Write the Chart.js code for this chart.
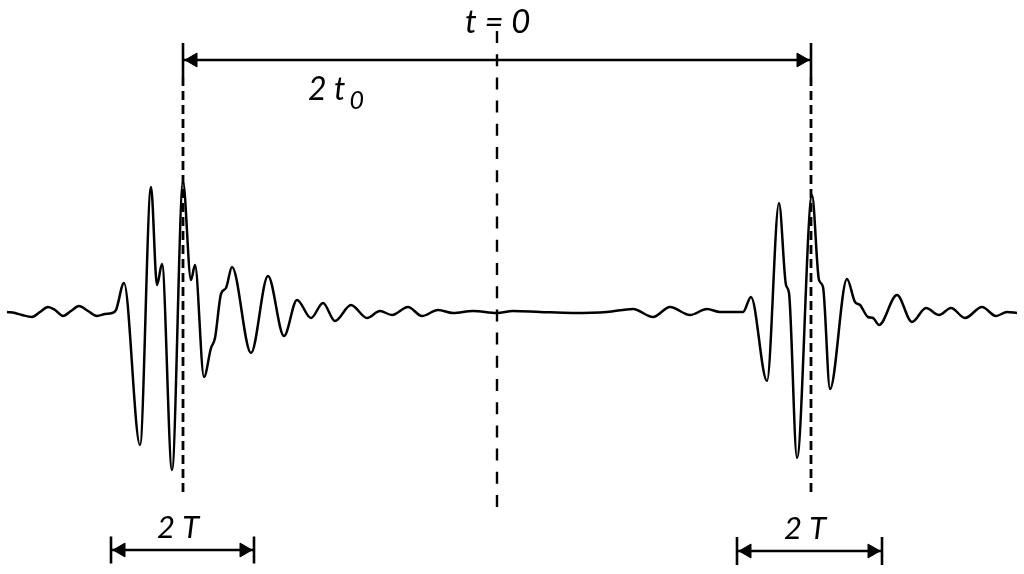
<!DOCTYPE html>
<html>
<head>
<meta charset="utf-8">
<script src="https://cdn.jsdelivr.net/npm/chart.js@4.4.1/dist/chart.umd.min.js"></script>
<style>
  html, body { margin: 0; padding: 0; background: #fff; }
  #wrap { width: 1024px; height: 574px; }
</style>
</head>
<body>
<div id="wrap"><canvas id="echo"></canvas></div>
<script>
// Signal: time (t = 0 in the middle) and amplitude
const waveT = [-490, -482, -475, -465, -457, -449, -442, -434, -426, -418, -409, -400, -392, -385,
  -381, -373, -357, -346, -340, -335, -325, -314, -306, -302, -293, -286, -282, -276, -271, -265,
  -246, -229, -213, -200, -186, -174, -162, -146, -130, -117, -105, -89, -75, -59, -44, -24,
  0, 16, 43, 76, 110, 136, 156, 173, 193, 210, 223, 246,
  254, 270, 282, 289, 292, 300, 315, 322, 326, 333, 350, 358, 363, 371, 376, 382,
  400, 415, 429, 442, 454, 468, 485, 499, 510, 520];
const waveA = [1, 0, -2, -4, 1, 6, 3, -3, 2, 7, 2, -3, -1, 0,
  3, 30, -132, 126, 28, 49, -157, 131, 33, 48, -64, -35, -25, 19, 25, 46,
  -40, 37, -23, 13, -5, 10, -8, 8, -5, 2, -2, 6, -3, 3, 0, 2,
  0, 2, 1, 0, 1, 4, -4, 6, -2, 4, 1, 1,
  16, -68, 110, 28, 20, -145, 118, 33, 26, -76, 34, 11, 8, -4, -5, -12,
  18, -9, 5, -2, 5, -5, 6, -3, 1, 0];

// Echo centres (-t0, 0, +t0) and the 2T windows
const markerT = [-314, 0, 314];
const windowStart = [-386, 240];
const windowEnd = [-243, 385];

const labels = ["t = 0", "2 t", "2 T", "2 T"];

const HEAD = 8;
const TOP_Y = 253, LOW_Y = [-237, -238];

const pts = (xs, ys) => xs.map((x, i) => ({ x, y: ys[i] }));
const seg = (x0, y0, x1, y1) => [{ x: x0, y: y0 }, { x: x1, y: y1 }];

const datasets = [];

datasets.push({
  data: pts(waveT, waveA),
  borderColor: "#000",
  borderWidth: 2.5,
  cubicInterpolationMode: "monotone",
  pointRadius: 0
});

// dashed vertical markers
markerT.forEach((t, i) => {
  const centre = t === 0;
  datasets.push({
    data: centre ? seg(t, 282, t, -194) : seg(t, 236, t, -180),
    borderColor: "#000",
    borderWidth: centre ? 2.4 : 2.8,
    borderDash: centre ? [12, 11.2] : [9, 5],
    pointRadius: 0
  });
});

// arrows: 2 t0 on top, 2T below each echo
const arrows = [
  { a: markerT[0], b: markerT[2], y: TOP_Y, tick: 17 },
  { a: windowStart[0], b: windowEnd[0], y: LOW_Y[0], tick: 13.5 },
  { a: windowStart[1], b: windowEnd[1], y: LOW_Y[1], tick: 14 }
];

const heads = [], rot = [];
for (const ar of arrows) {
  datasets.push({ data: seg(ar.a, ar.y, ar.b, ar.y), borderColor: "#000", borderWidth: 2.6, pointRadius: 0 });
  datasets.push({ data: seg(ar.a, ar.y + ar.tick, ar.a, ar.y - ar.tick), borderColor: "#000", borderWidth: 2.6, pointRadius: 0 });
  datasets.push({ data: seg(ar.b, ar.y + ar.tick, ar.b, ar.y - ar.tick), borderColor: "#000", borderWidth: 2.6, pointRadius: 0 });
  heads.push({ x: ar.a + 2 + HEAD, y: ar.y }, { x: ar.b - 2 - HEAD, y: ar.y });
  rot.push(-90, 90);
}

datasets.push({
  data: heads,
  showLine: false,
  pointStyle: "triangle",
  pointRadius: HEAD,
  rotation: rot,
  backgroundColor: "#000",
  borderColor: "#000",
  borderWidth: 1
});

// text labels
const textPlugin = {
  id: "texts",
  afterDatasetsDraw(chart) {
    const { ctx, scales: { x, y } } = chart;
    const font = size => "italic " + size + "px Lato, 'Open Sans', sans-serif";
    ctx.save();
    ctx.fillStyle = "#000";
    ctx.textBaseline = "alphabetic";
    ctx.textAlign = "left";

    ctx.font = font(33);
    ctx.fillText(labels[0], x.getPixelForValue(-32), y.getPixelForValue(280));

    const px = x.getPixelForValue(-189), py = y.getPixelForValue(213);
    ctx.font = font(32);
    ctx.fillText(labels[1], px, py);
    const w = ctx.measureText(labels[1]).width;
    ctx.font = font(25);
    ctx.fillText("0", px + w + 4, py + 9);

    ctx.font = font(31);
    ctx.fillText(labels[2], x.getPixelForValue(-340), y.getPixelForValue(-225));
    ctx.fillText(labels[3], x.getPixelForValue(287), y.getPixelForValue(-226));
    ctx.restore();
  }
};

new Chart(document.getElementById("echo"), {
  type: "line",
  data: { datasets },
  options: {
    responsive: true,
    maintainAspectRatio: false,
    animation: false,
    parsing: false,
    layout: { padding: 0, autoPadding: false },
    plugins: { legend: { display: false }, tooltip: { enabled: false } },
    elements: { line: { borderCapStyle: "butt" } },
    clip: false,
    scales: {
      x: { type: "linear", min: -497, max: 527, display: false },
      y: { type: "linear", min: -261, max: 313, display: false }
    }
  },
  plugins: [textPlugin]
});
</script>
</body>
</html>
